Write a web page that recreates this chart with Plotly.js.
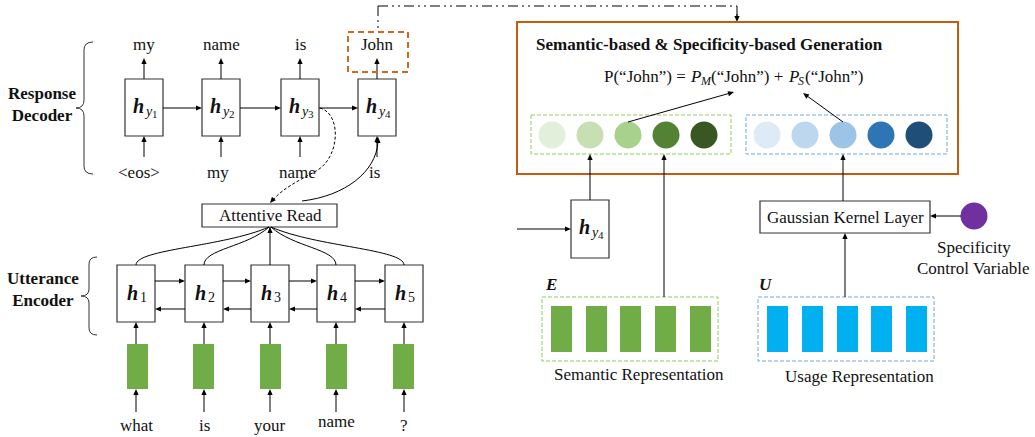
<!DOCTYPE html>
<html><head><meta charset="utf-8">
<script src="https://cdn.plot.ly/plotly-3.0.1.min.js"></script>
<style>body{margin:0;background:#fff}#g{width:1035px;height:437px}</style>
</head><body><div id="g"></div>
<script>
// ---- diagram content ----
const decoderInputs = ['&lt;eos&gt;', 'my', 'name', 'is'];
const decoderOutputs = ['my', 'name', 'is', 'John'];
const encoderWords = ['what', 'is', 'your', 'name', '?'];
const encoderStates = ['1', '2', '3', '4', '5'];
const semanticShades = ['#E2EFDA', '#C6E0B4', '#A9D18E', '#548235', '#385723'];
const specificityShades = ['#DEEBF7', '#BDD7EE', '#9DC3E6', '#2E75B6', '#1F4E79'];
const embeddingSlots = ['e1', 'e2', 'e3', 'e4', 'e5'];
const usageSlots = ['u1', 'u2', 'u3', 'u4', 'u5'];
const titles = {
  gen: 'Semantic-based &amp; Specificity-based Generation',
  dec: '<b>Response<br>Decoder</b>',
  enc: '<b>Utterance<br>Encoder</b>'
};
const formulaParts = [
  {t: 'P(“John”) = '}, {t: 'P', i: true}, {t: 'M', i: true, sub: true},
  {t: '(“John”) + '}, {t: 'P', i: true}, {t: 'S', i: true, sub: true}, {t: '(“John”)'}
];

// ---- layout helpers ----
const FONT = 'Liberation Serif, Times New Roman, serif';
const FS = 17;
const shapes = [], ann = [];
const ctx = document.createElement('canvas').getContext('2d');
function measure(t, size, it, b) {
  ctx.font = (it ? 'italic ' : '') + (b ? 'bold ' : '') + size + 'px "Liberation Serif"';
  return ctx.measureText(t.replace(/&lt;/g, '<').replace(/&gt;/g, '>').replace(/&amp;/g, '&')).width;
}
function rect(x0, y0, x1, y1, o) {
  o = o || {};
  shapes.push({type: 'rect', x0, y0, x1, y1, xref: 'x', yref: 'y',
    line: {color: o.lc || '#333', width: o.lw === undefined ? 1.2 : o.lw, dash: o.dash || 'solid'},
    fillcolor: o.fill || 'rgba(0,0,0,0)', layer: 'above'});
}
function circ(cx, cy, r, fill) {
  shapes.push({type: 'circle', x0: cx - r, y0: cy - r, x1: cx + r, y1: cy + r, xref: 'x', yref: 'y',
    line: {width: 0}, fillcolor: fill});
}
function line(x0, y0, x1, y1, o) {
  o = o || {};
  shapes.push({type: 'line', x0, y0, x1, y1, xref: 'x', yref: 'y',
    line: {color: o.lc || '#000', width: o.lw || 1, dash: o.dash || 'solid'}});
}
function path(d, o) {
  o = o || {};
  shapes.push({type: 'path', path: d, xref: 'x', yref: 'y',
    line: {color: o.lc || '#000', width: o.lw || 1, dash: o.dash || 'solid'}});
}
function head(ax, ay, x, y) {
  const dx = x - ax, dy = y - ay, L = Math.hypot(dx, dy) || 1;
  const ux = dx / L, uy = dy / L, len = 6, hw = 2.6;
  const bx = x - ux * len, by = y - uy * len;
  const p1 = [bx - uy * hw, by + ux * hw], p2 = [bx + uy * hw, by - ux * hw];
  shapes.push({type: 'path', xref: 'x', yref: 'y',
    path: 'M' + x + ',' + y + ' L' + p1[0] + ',' + p1[1] + ' L' + p2[0] + ',' + p2[1] + ' Z',
    fillcolor: '#000', line: {width: 0}});
}
function arrow(ax, ay, x, y) {
  const dx = x - ax, dy = y - ay, L = Math.hypot(dx, dy) || 1;
  line(ax, ay, x - dx / L * 4, y - dy / L * 4);
  head(ax, ay, x, y);
}
function text(x, y, t, size, o) {
  o = o || {};
  ann.push({x, y, xref: 'x', yref: 'y', text: t, showarrow: false, borderpad: 0,
    font: {family: FONT, size: size || FS, color: '#111'}, xanchor: o.xa || 'center', yanchor: o.ya || 'middle', align: o.align || 'center'});
}
// row of styled pieces, centred on x
function row(x, y, parts) {
  const ws = parts.map(p => measure(p.t, p.s || FS, p.i, p.b) + (p.gap || 0));
  let cx = x - ws.reduce((a, b) => a + b, 0) / 2;
  parts.forEach((p, k) => {
    let t = p.t;
    if (p.i) t = '<i>' + t + '</i>';
    if (p.b) t = '<b>' + t + '</b>';
    text(cx, y + (p.dy || 0), t, p.s || FS, {xa: 'left'});
    cx += ws[k];
  });
}
function hDec(cx, cy, n) {
  row(cx, cy, [{t: 'h', i: true, b: true, s: 20, gap: 0}, {t: 'y', i: true, s: 14, dy: 5, gap: 2}, {t: String(n), s: 11, dy: 8}]);
}
function hEnc(cx, cy, n) {
  row(cx, cy, [{t: 'h', i: true, b: true, s: 20, gap: 1}, {t: String(n), s: 14, dy: 4}]);
}

// ---- response decoder ----
const decX = [125, 202, 281, 358], decW = 38, decY0 = 79, decY1 = 136;
decoderOutputs.forEach((w, i) => {
  const x0 = decX[i], cx = x0 + decW / 2;
  rect(x0, decY0, x0 + decW, decY1);
  hDec(cx, 106, i + 1);
  text(cx, 44, w);
  arrow(cx, decY0, cx, 58);
  text(cx - (i === 0 ? 5 : 3), 172, decoderInputs[i]);
  arrow(cx, 157, cx, decY1);
  if (i > 0) arrow(decX[i - 1] + decW, 108, x0, 108);
});
// John dashed box
rect(348, 32, 408, 72, {lc: '#D2691E', lw: 2, dash: '6px,4px'});
// brace decoder
path('M93,42 Q84,42 84,50 L84,100 Q84,108 76,108 Q84,108 84,116 L84,166 Q84,174 93,174', {lc: '#333'});
text(42, 104, titles.dec);

// ---- utterance encoder ----
const encX = [117, 185, 251, 317, 385], encW = 38, encY0 = 265, encY1 = 322;
const arX0 = 202, arX1 = 337, arY0 = 204, arY1 = 227, arC = 270;
rect(arX0, arY0, arX1, arY1);
text(arC, 215.5, 'Attentive Read');
const barX = [127, 193, 260, 326, 393];
encoderStates.forEach((s, i) => {
  const x0 = encX[i], cx = x0 + encW / 2;
  rect(x0, encY0, x0 + encW, encY1);
  hEnc(cx, 293, s);
  if (i > 0) {
    arrow(encX[i - 1] + encW, 281, x0, 281);
    arrow(x0, 309, encX[i - 1] + encW, 309);
  }
  const bx = barX[i];
  shapes.push({type: 'rect', x0: bx, x1: bx + 21, y0: 344, y1: 389, xref: 'x', yref: 'y', line: {width: 0}, fillcolor: '#70AD47'});
  arrow(cx, 344, cx, encY1);
  arrow(cx, 412, cx, 389);
  text(cx, encoderWords[i] === 'name' ? 421 : 425, encoderWords[i]);
  // attention curve
  const dx = cx - arC;
  if (Math.abs(dx) < 2) path('M' + cx + ',' + encY0 + ' L' + arC + ',' + arY1);
  else path('M' + cx + ',' + encY0 + ' C' + cx + ',' + (encY0 - 16) + ' ' + (arC + dx * 0.35) + ',' + (encY0 - 18) + ' ' + (arC + Math.sign(dx)) + ',' + arY1);
});
head(arC, 236, arC, arY1);
// brace encoder
path('M97,257 Q89,257 89,264 L89,289 Q89,296 81,296 Q89,296 89,303 L89,328 Q89,335 97,335', {lc: '#333'});
text(43, 289, titles.enc);

// decoder <-> attentive read curves
path('M320,108 C342,114 340,158 316,171 C298,181 282,189 273,200', {dash: '3px,2px'});
head(276, 196, 270, 203);
path('M302,201 C345,196 376,172 378,142');
head(378, 146, 378, 137);

// dash-dot connector
const dd = '10px,4px,2px,4px,2px,4px';
line(378, 6, 378, 32, {dash: dd});
line(378, 6, 737, 6, {dash: dd});
line(737, 6, 737, 16, {dash: dd});
arrow(737, 14, 737, 22);

// ---- generation box ----
rect(517, 22, 958, 174, {lc: '#C55A11', lw: 2});
text(535, 44, '<b>' + titles.gen + '</b>', FS, {xa: 'left'});
row(733, 76, formulaParts.map(p => p.sub ? {t: p.t, i: p.i, s: 12, dy: 5, gap: 1} : {t: p.t, i: p.i}));
rect(531, 115, 731, 154, {lc: '#8FCB5A', lw: 1, dash: '4px,2px'});
rect(746, 115, 947, 154, {lc: '#6FA8DC', lw: 1, dash: '4px,2px'});
const gcx = [552, 590, 628, 666, 704], bcx = [767, 805, 843, 881, 919];
semanticShades.forEach((c, i) => circ(gcx[i], 135, 13.5, c));
specificityShades.forEach((c, i) => circ(bcx[i], 135, 13.5, c));
arrow(628, 122, 734, 92);
arrow(843, 122, 803, 93);

// h_y4 small box
rect(571, 200, 609, 258);
hDec(590, 227, 4);
arrow(517, 229, 571, 229);
arrow(590, 200, 590, 154);

// semantic representation E
text(551, 284, '<b><i>E</i></b>');
rect(542, 297, 718, 361, {lc: '#8FCB5A', lw: 1, dash: '4px,2px'});
const eX = [551, 586, 620, 655, 690];
embeddingSlots.forEach((s, i) => shapes.push({type: 'rect', x0: eX[i], x1: eX[i] + 21, y0: 306, y1: 352, xref: 'x', yref: 'y', line: {width: 0}, fillcolor: '#70AD47'}));
arrow(664, 297, 664, 154);
text(639, 374, 'Semantic Representation');

// usage representation U
text(765, 284, '<b><i>U</i></b>');
rect(758, 297, 934, 361, {lc: '#6FA8DC', lw: 1, dash: '4px,2px'});
const uX = [767, 802, 837, 871, 906];
usageSlots.forEach((s, i) => shapes.push({type: 'rect', x0: uX[i], x1: uX[i] + 21, y0: 306, y1: 352, xref: 'x', yref: 'y', line: {width: 0}, fillcolor: '#00B0F0'}));
text(859, 376, 'Usage Representation');

// gaussian kernel layer
rect(760, 201, 930, 233);
text(845, 217, 'Gaussian Kernel Layer');
arrow(843, 201, 843, 154);
arrow(845, 297, 845, 233);
circ(974, 216, 13.5, '#7030A0');
arrow(961, 216, 930, 216);
text(974, 247, 'Specificity');
text(973, 268, 'Control Variable');

Plotly.newPlot('g', [], {
  width: 1035, height: 437, margin: {l: 0, r: 0, t: 0, b: 0},
  paper_bgcolor: '#fff', plot_bgcolor: '#fff',
  xaxis: {range: [0, 1035], visible: false, fixedrange: true},
  yaxis: {range: [437, 0], visible: false, fixedrange: true},
  shapes, annotations: ann, showlegend: false
}, {staticPlot: true});
</script></body></html>
